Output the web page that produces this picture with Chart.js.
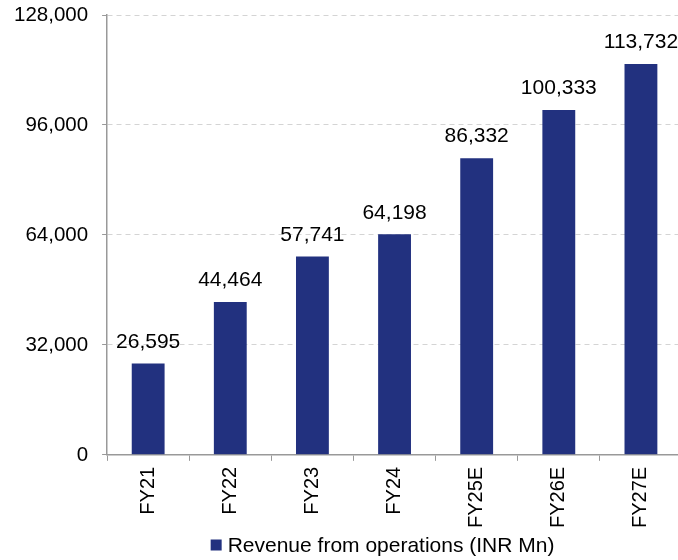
<!DOCTYPE html>
<html lang="en">
<head>
    <meta charset="UTF-8">
    <title>Revenue from operations</title>
    <style>
        * { padding: 0; margin: 0; }
        body { background: white; overflow: hidden; }
        #wrap { width: 678px; height: 560px; overflow: hidden; }
    </style>
</head>
<body>
    <div id="wrap"><canvas id="revenueChart" width="682" height="560"></canvas></div>

    <script src="https://cdn.jsdelivr.net/npm/chart.js"></script>
    <script>
        // data
        const years = ['FY21', 'FY22', 'FY23', 'FY24', 'FY25E', 'FY26E', 'FY27E'];
        const revenue = [26595, 44464, 57741, 64198, 86332, 100333, 113732];
        const yTicks = [0, 32000, 64000, 96000, 128000];
        const seriesName = 'Revenue from operations (INR Mn)';

        const fontName = '"Liberation Sans", Arial, sans-serif';
        const barColor = '#22317f';

        // label di atas tiap batang
        const barLabels = {
            id: 'barLabels',
            afterDatasetsDraw(chart) {
                const ctx = chart.ctx;
                const meta = chart.getDatasetMeta(0);
                ctx.save();
                ctx.font = '21px ' + fontName;
                ctx.fillStyle = '#000';
                ctx.textAlign = 'center';
                ctx.textBaseline = 'bottom';
                meta.data.forEach((bar, i) => {
                    ctx.fillText(revenue[i].toLocaleString('en-US'), bar.x, bar.y - 11);
                });
                ctx.restore();
            }
        };

        // legend sederhana di bawah (kotak + teks)
        const bottomLegend = {
            id: 'bottomLegend',
            afterDraw(chart) {
                const ctx = chart.ctx;
                const area = chart.chartArea;
                ctx.save();
                ctx.font = '21px ' + fontName;
                const textW = ctx.measureText(seriesName).width;
                const box = 11, gap = 6;
                const total = box + gap + textW;
                const cx = (area.left + area.right) / 2 - 12;
                const x = cx - total / 2;
                const y = chart.height - 15;
                ctx.fillStyle = barColor;
                ctx.fillRect(x, y - box / 2, box, box);
                ctx.fillStyle = '#000';
                ctx.textBaseline = 'middle';
                ctx.textAlign = 'left';
                ctx.fillText(seriesName, x + box + gap, y + 1);
                ctx.restore();
            }
        };

        new Chart(document.getElementById('revenueChart'), {
            type: 'bar',
            data: {
                labels: years,
                datasets: [{
                    label: seriesName,
                    data: revenue,
                    backgroundColor: barColor,
                    barPercentage: 0.4,
                    categoryPercentage: 1.0
                }]
            },
            options: {
                responsive: false,
                animation: false,
                layout: { padding: { top: 15, right: 0, left: 0, bottom: 26 } },
                plugins: {
                    tooltip: { enabled: false },
                    legend: { display: false }
                },
                scales: {
                    x: {
                        grid: {
                            offset: true,
                            drawOnChartArea: false,
                            drawTicks: true,
                            tickLength: 6,
                            color: '#999'
                        },
                        border: { color: '#999', width: 1.5 },
                        ticks: {
                            font: { family: fontName, size: 20 },
                            color: '#000',
                            minRotation: 90,
                            maxRotation: 90,
                            padding: 6
                        }
                    },
                    y: {
                        min: 0,
                        max: 128000,
                        afterBuildTicks: axis => { axis.ticks = yTicks.map(v => ({ value: v })); },
                        afterFit: axis => { axis.paddingTop = 0; axis.paddingBottom = 0; },
                        grid: {
                            color: c => c.tick && c.tick.value === 0 ? 'rgba(0,0,0,0)' : '#d4d4d4',
                            tickColor: '#999',
                            tickLength: 5,
                            lineWidth: 1
                        },
                        border: { color: '#999', width: 1.5, dash: [5, 4] },
                        ticks: {
                            font: { family: fontName, size: 20.5 },
                            color: '#000',
                            padding: 14,
                            callback: v => v.toLocaleString('en-US')
                        }
                    }
                }
            },
            plugins: [barLabels, bottomLegend]
        });
    </script>
</body>
</html>
